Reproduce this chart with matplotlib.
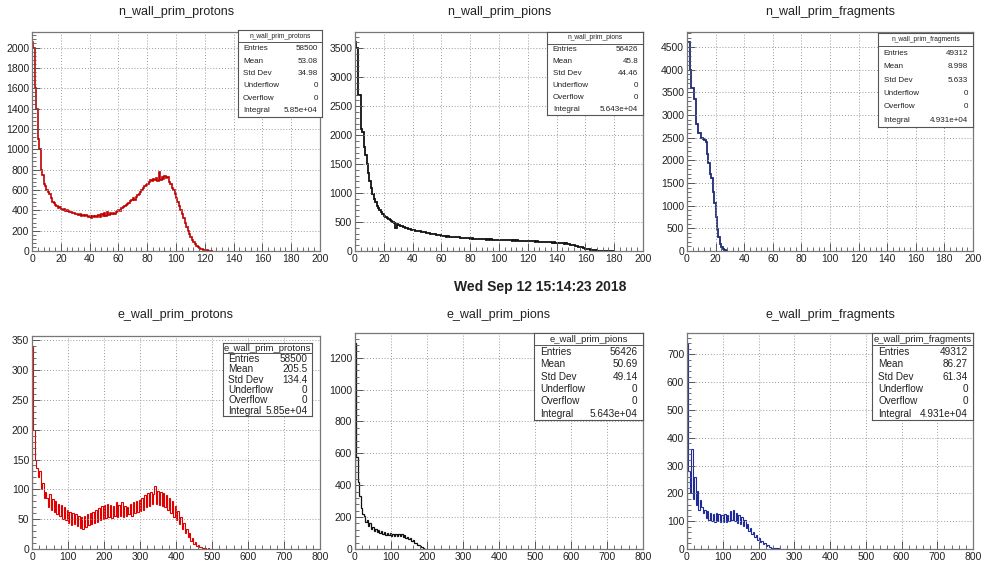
import numpy as np
import matplotlib
matplotlib.use("Agg")
from matplotlib import pyplot as plt
from matplotlib.ticker import MultipleLocator

plt.rcParams['font.family'] = ['Liberation Sans', 'DejaVu Sans']

# ---- bin contents (n_wall: 1 unit bins, e_wall: 4 unit bins) ----
n_protons = [2050, 2000, 1600, 1400, 1100, 1000, 800, 750, 660, 640,
             600, 580, 560, 520, 480, 470, 450, 440, 420, 430,
             410, 400, 410, 390, 400, 395, 380, 385, 370, 375,
             360, 365, 350, 360, 345, 355, 340, 350, 345, 330,
             345, 320, 340, 330, 345, 335, 350, 330, 360, 340,
             370, 345, 380, 350, 370, 360, 375, 365, 385, 390,
             400, 395, 420, 430, 440, 450, 460, 470, 490, 500,
             520, 500, 530, 550, 560, 580, 600, 620, 640, 650,
             660, 680, 700, 690, 710, 700, 720, 690, 780, 700,
             730, 710, 740, 720, 730, 680, 660, 620, 600, 560,
             520, 480, 440, 400, 360, 320, 280, 240, 200, 170,
             140, 110, 90, 70, 50, 40, 30, 20, 15, 10,
             8, 5, 4, 3, 2, 1]

n_pions = [3600, 3500, 2700, 2700, 2100, 2050, 1800, 1650, 1500, 1350,
           1200, 1080, 980, 900, 840, 780, 740, 700, 670, 640,
           610, 590, 570, 550, 530, 515, 500, 480, 400, 470,
           450, 440, 430, 420, 410, 400, 395, 385, 380, 370,
           365, 358, 352, 348, 340, 338, 332, 326, 322, 318,
           312, 306, 300, 296, 290, 285, 282, 276, 272, 268,
           262, 258, 255, 250, 252, 246, 248, 242, 244, 238,
           240, 234, 236, 230, 232, 226, 228, 222, 224, 218,
           215, 220, 212, 208, 214, 205, 210, 202, 207, 200,
           204, 198, 202, 196, 200, 194, 198, 192, 196, 190,
           195, 188, 192, 186, 190, 185, 188, 182, 186, 180,
           184, 178, 182, 176, 180, 174, 178, 172, 176, 170,
           172, 166, 170, 164, 168, 162, 165, 160, 163, 158,
           160, 155, 158, 152, 155, 150, 152, 146, 148, 142,
           144, 138, 140, 134, 135, 128, 130, 122, 120, 112,
           110, 102, 98, 90, 84, 76, 70, 62, 55, 48,
           42, 36, 30, 25, 20, 16, 12, 9, 7, 5,
           4, 3, 2, 2, 1, 1, 1, 0, 0, 0]

n_fragments = [4600, 4600, 4000, 3600, 3600, 3350, 2800, 2800, 2600, 2600,
               2500, 2480, 2450, 2400, 2150, 1950, 1700, 1600, 1300, 1050,
               750, 480, 300, 160, 80, 40, 15, 5, 2]

e_protons = [340, 200, 150, 135, 120, 130, 100, 110, 85, 95,
             85, 70, 92, 66, 84, 62, 80, 58, 76, 55,
             74, 50, 70, 48, 66, 44, 62, 40, 60, 42,
             58, 38, 56, 36, 54, 34, 55, 37, 58, 40,
             60, 42, 62, 44, 66, 46, 68, 48, 72, 50,
             74, 52, 76, 54, 74, 52, 72, 55, 78, 54,
             74, 56, 78, 54, 72, 56, 70, 58, 76, 56,
             78, 60, 80, 62, 82, 64, 86, 66, 90, 70,
             94, 72, 96, 76, 92, 106, 76, 98, 74, 96,
             72, 94, 70, 90, 66, 86, 60, 80, 54, 72,
             48, 64, 42, 54, 34, 44, 26, 34, 20, 26,
             14, 18, 9, 11, 5, 6, 3, 3, 1, 2,
             1, 0, 1, 0, 0]

e_pions = [1290, 580, 420, 330, 260, 220, 205, 170, 180, 145,
           160, 128, 140, 112, 125, 104, 118, 98, 110, 92,
           104, 88, 100, 86, 98, 84, 96, 82, 95, 82,
           94, 80, 92, 76, 86, 70, 78, 62, 68, 52,
           54, 40, 40, 28, 26, 16, 12, 6, 3, 1]

e_fragments = [740, 280, 200, 360, 180, 260, 160, 210, 140, 175,
               150, 130, 140, 112, 135, 105, 128, 100, 125, 98,
               128, 100, 126, 98, 124, 96, 126, 98, 124, 100,
               138, 104, 140, 100, 128, 94, 122, 90, 116, 84,
               104, 76, 90, 64, 76, 54, 62, 44, 50, 34,
               38, 26, 28, 18, 20, 12, 13, 8, 8, 4,
               4, 3, 2, 2, 1, 1, 1, 0, 0, 0]

names = ["n_wall_prim_protons", "n_wall_prim_pions", "n_wall_prim_fragments",
         "e_wall_prim_protons", "e_wall_prim_pions", "e_wall_prim_fragments"]
contents = [n_protons, n_pions, n_fragments, e_protons, e_pions, e_fragments]
bin_width = [1, 1, 1, 4, 4, 4]
x_max = [200, 200, 200, 800, 800, 800]
colors = ["#c00000", "#111111", "#1f2a78", "#e00000", "#111111", "#1f2a9a"]
line_w = [1.2, 1.3, 1.3, 0.8, 0.9, 0.8]
y_major = [200, 500, 500, 50, 200, 100]

# stats box entries
entries = ["58500", "56426", "49312", "58500", "56426", "49312"]
means = ["53.08", "45.8", "8.998", "205.5", "50.69", "86.27"]
stddevs = ["34.98", "44.46", "5.633", "134.4", "49.14", "61.34"]
integrals = ["5.85e+04", "5.643e+04", "4.931e+04", "5.85e+04", "5.643e+04", "4.931e+04"]

W, H = 985, 569
fig = plt.figure(figsize=(W / 100, H / 100), dpi=100)


def px_rect(l, t, r, b):
    return [l / W, 1 - b / H, (r - l) / W, (b - t) / H]


frames = [(32, 32, 320, 251), (355, 32, 643, 251), (687, 32, 973, 251),
          (32, 336, 320, 549), (355, 333, 643, 549), (687, 333, 973, 549)]
boxes = [(238, 30, 322, 117), (547, 32, 643, 115), (878, 33, 973, 127),
         (223, 343, 312, 416), (534, 333, 643, 420), (872, 333, 973, 420)]
title_y = [12, 12, 12, 315, 315, 315]

for i in range(6):
    ax = fig.add_axes(px_rect(*frames[i]))
    vals = np.array(contents[i], dtype=float)
    edges = np.arange(len(vals) + 1) * bin_width[i]
    ax.stairs(vals, edges, color=colors[i], lw=line_w[i])
    ax.set_xlim(0, x_max[i])
    ax.set_ylim(0, 1.05 * vals.max())

    ax.xaxis.set_major_locator(MultipleLocator(x_max[i] / (10 if x_max[i] == 200 else 8)))
    ax.xaxis.set_minor_locator(MultipleLocator(x_max[i] / (50 if x_max[i] == 200 else 40)))
    ax.yaxis.set_major_locator(MultipleLocator(y_major[i]))
    ax.yaxis.set_minor_locator(MultipleLocator(y_major[i] / 5))
    ax.tick_params(which='both', direction='in', labelsize=7.5, labelcolor='#222222',
                   color='#555555', top=False, right=False, pad=2)
    ax.tick_params(which='major', length=6, width=0.7)
    ax.tick_params(which='minor', length=3, width=0.6)
    ax.grid(True, which='major', color='#9a9a9a', ls=(0, (1, 2)), lw=0.7)
    for s in ax.spines.values():
        s.set_color('#777777')
        s.set_linewidth(0.9)

    l, t, r, b = frames[i]
    fig.text(((l + r) / 2) / W, 1 - title_y[i] / H, names[i], ha='center', va='center',
             fontsize=9, color='#222222')

    # stats box
    bx = fig.add_axes(px_rect(*boxes[i]))
    bx.set_xticks([])
    bx.set_yticks([])
    bx.set_xlim(0, 1)
    bx.set_ylim(0, 7)
    for s in bx.spines.values():
        s.set_color('#555555')
        s.set_linewidth(0.8)
    small = i < 3
    fs = 5.8 if small else 7.2
    hfs = 4.8 if small else 6.8
    bx.text(0.5, 6.5, names[i], ha='center', va='center', fontsize=hfs, color='#222222')
    bx.axhline(6.0, color='#555555', lw=0.7)
    rows = [("Entries", entries[i]), ("Mean", means[i]), ("Std Dev", stddevs[i]),
            ("Underflow", "0"), ("Overflow", "0"), ("Integral", integrals[i])]
    for k, (lab, val) in enumerate(rows):
        yy = 5.5 - k
        bx.text(0.06, yy, lab, ha='left', va='center', fontsize=fs, color='#222222')
        bx.text(0.95, yy, val, ha='right', va='center', fontsize=fs, color='#222222')

fig.text(540 / W, 1 - 287 / H, "Wed Sep 12 15:14:23 2018", ha='center', va='center',
         fontsize=10, fontweight='bold', color='#222222')

fig.savefig("out.png", dpi=100, facecolor='white')
